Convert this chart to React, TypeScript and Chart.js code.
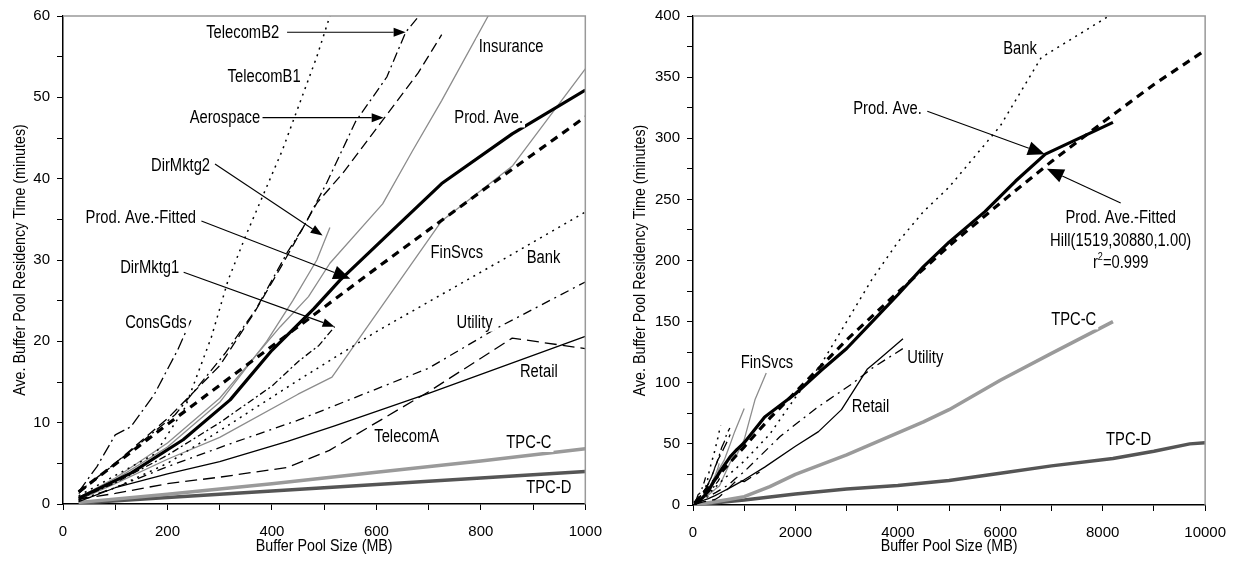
import React, { useEffect, useRef } from 'react';
import { Chart, registerables } from 'chart.js';

Chart.register(...registerables);

const FONT = "'Liberation Sans', Arial, sans-serif";
const NARROW = 0.82; // Arial Narrow is roughly Arial condensed horizontally

type Pt = [number, number];

// ---- series data: [buffer pool size MB, residency time minutes] ----
const prodAve: Pt[] = [[30, 0.7], [130, 3.8], [230, 7.9], [320, 12.8], [400, 18.9], [480, 24.0], [530, 27.5], [620, 33], [725, 39.4], [860, 45.5], [1000, 50.9], [1400, 72], [2000, 91], [2500, 110], [3000, 128], [3500, 150], [4000, 172], [4500, 195], [5000, 215], [5700, 240], [6300, 265], [6880, 287], [8200, 313]];
const prodAveFitted: Pt[] = [[30, 1.5], [100, 4.9], [200, 9.8], [300, 14.6], [400, 19.4], [500, 24.2], [600, 29], [700, 33.7], [800, 38.4], [900, 43], [1000, 47.6], [1500, 71], [2000, 92.4], [3000, 135], [4000, 174], [5000, 212], [6000, 247], [7000, 281], [8000, 313], [9000, 344], [10000, 372]];
const telecomB2: Pt[] = [[30, 1.5], [110, 5.5], [215, 11], [310, 18.5], [370, 24], [430, 31], [460, 34], [505, 39.5], [560, 47], [620, 52.5], [656, 58], [720, 63]];
const telecomB1: Pt[] = [[30, 1], [100, 3.5], [177, 6.2], [234, 11.9], [284, 20.5], [316, 27.5], [350, 33], [420, 43.5], [486, 55], [511, 60], [540, 65]];
const aerospace: Pt[] = [[30, 1.3], [100, 5], [200, 10.5], [300, 17], [366, 23.5], [416, 29], [486, 37], [536, 40.7], [610, 47], [680, 53], [725, 57.7]];
const dirMktg2: Pt[] = [[30, 0.8], [100, 3], [200, 7], [300, 12.5], [390, 20], [440, 25], [486, 30], [511, 34]];
const dirMktg1: Pt[] = [[30, 0.6], [100, 2.6], [200, 6], [300, 10], [400, 14.5], [450, 17.5], [490, 19.5], [520, 21.8]];
const consGds: Pt[] = [[30, 1.5], [65, 4.6], [100, 8.5], [130, 9.5], [175, 13.5], [220, 19], [245, 22.6]];
const insurance: Pt[] = [[30, 0.8], [100, 3.2], [200, 7.5], [300, 13], [416, 21.8], [470, 25.5], [511, 29.6], [612, 36.9], [669, 43.4], [725, 49.6], [814, 60], [1000, 79]];
const finSvcs: Pt[] = [[30, 0.5], [100, 2.5], [200, 5.5], [300, 8.2], [450, 13.5], [515, 15.6], [725, 34.8], [861, 41.6], [1000, 53.5], [1210, 86], [1430, 108]];
const bank: Pt[] = [[30, 0.4], [100, 2], [200, 5], [300, 9], [450, 15.2], [600, 21.2], [800, 28.5], [1000, 35.9], [1500, 58], [2000, 88], [2500, 115], [3000, 150], [3500, 185], [4000, 215], [4500, 240], [5000, 260], [6000, 310], [6800, 366], [8200, 402]];
const utility: Pt[] = [[30, 0.5], [100, 2], [200, 4.6], [320, 7.4], [450, 10.3], [700, 16.7], [830, 21.6], [1000, 27.3], [1700, 56], [2400, 79], [3100, 99], [3500, 112], [4100, 128]];
const retail: Pt[] = [[30, 0.3], [100, 2], [200, 3.7], [300, 5.2], [430, 7.7], [520, 9.6], [700, 13.6], [1000, 20.6], [1400, 31], [2000, 48], [2450, 60], [2900, 78], [3400, 111], [3600, 118], [4100, 136]];
const telecomA: Pt[] = [[30, 0.6], [100, 1.3], [200, 2.5], [300, 3.3], [430, 4.5], [510, 6.6], [700, 13.8], [860, 20.4], [1000, 19.1], [1300, 27]];
const tpcC: Pt[] = [[30, 0.2], [200, 1.2], [400, 2.5], [600, 3.9], [800, 5.3], [1000, 6.8], [1500, 15], [2000, 25], [2500, 33], [3000, 41], [3500, 50], [4000, 59], [4500, 68], [5000, 78], [6000, 102], [7000, 124], [8200, 150]];
const tpcD: Pt[] = [[30, 0.1], [200, 0.8], [400, 1.6], [600, 2.4], [800, 3.2], [1000, 4.0], [2000, 9], [3000, 13], [4000, 16], [5000, 20], [6000, 26], [7000, 32], [8200, 38], [9000, 44], [9700, 50], [10000, 51]];

// ---- axis settings ----
const leftXMax = 1000;
const leftYMax = 60;
const rightXMax = 10000;
const rightYMax = 400;
const xTitle = 'Buffer Pool Size (MB)';
const yTitle = 'Ave. Buffer Pool Residency Time (minutes)';

type Style = { data: Pt[]; color: string; width: number; dash: number[] };
const series: Style[] = [
  { data: prodAve, color: '#000', width: 3.2, dash: [] },
  { data: prodAveFitted, color: '#000', width: 3.2, dash: [8, 6] },
  { data: retail, color: '#000', width: 1.3, dash: [] },
  { data: telecomA, color: '#000', width: 1.3, dash: [12, 6] },
  { data: utility, color: '#000', width: 1.3, dash: [9, 5, 2, 5] },
  { data: bank, color: '#000', width: 1.5, dash: [2, 5] },
  { data: telecomB1, color: '#000', width: 1.5, dash: [2, 5] },
  { data: telecomB2, color: '#000', width: 1.3, dash: [10, 4, 2, 4] },
  { data: aerospace, color: '#000', width: 1.3, dash: [10, 5] },
  { data: dirMktg1, color: '#000', width: 1.3, dash: [7, 3, 2, 3] },
  { data: consGds, color: '#000', width: 1.3, dash: [12, 4, 2, 4] },
  { data: dirMktg2, color: '#8c8c8c', width: 1.3, dash: [] },
  { data: insurance, color: '#8c8c8c', width: 1.3, dash: [] },
  { data: finSvcs, color: '#8c8c8c', width: 1.3, dash: [] },
  { data: tpcC, color: '#9a9a9a', width: 3.5, dash: [] },
  { data: tpcD, color: '#555', width: 3.5, dash: [] },
];

type Label = { t: string; x: number; y: number; sup?: boolean };
type Arrow = { x1: number; y1: number; x2: number; y2: number; big?: boolean };

const leftLabels: Label[] = [
  { t: 'TelecomB2', x: 344, y: 57.9 },
  { t: 'TelecomB1', x: 385, y: 52.5 },
  { t: 'Aerospace', x: 310, y: 47.4 },
  { t: 'DirMktg2', x: 225, y: 41.5 },
  { t: 'Prod. Ave.-Fitted', x: 149, y: 35.2 },
  { t: 'DirMktg1', x: 166, y: 29 },
  { t: 'ConsGds', x: 178, y: 22.3 },
  { t: 'Insurance', x: 858, y: 56.2 },
  { t: 'Prod. Ave.', x: 815, y: 47.4 },
  { t: 'FinSvcs', x: 754, y: 30.9 },
  { t: 'Bank', x: 920, y: 30.3 },
  { t: 'Utility', x: 788, y: 22.3 },
  { t: 'Retail', x: 911, y: 16.2 },
  { t: 'TelecomA', x: 658, y: 8.2 },
  { t: 'TPC-C', x: 892, y: 7.5 },
  { t: 'TPC-D', x: 930, y: 2.0 },
];
const leftArrows: Arrow[] = [
  { x1: 429, y1: 58.0, x2: 656, y2: 58.0 },
  { x1: 382, y1: 47.5, x2: 614, y2: 47.5 },
  { x1: 291, y1: 41.8, x2: 497, y2: 33 },
  { x1: 265, y1: 34.8, x2: 550, y2: 27.7, big: true },
  { x1: 231, y1: 28.5, x2: 520, y2: 21.8 },
];
const rightLabels: Label[] = [
  { t: 'Bank', x: 6384, y: 373 },
  { t: 'Prod. Ave.', x: 3798, y: 324 },
  { t: 'Prod. Ave.-Fitted', x: 8351, y: 235 },
  { t: 'Hill(1519,30880,1.00)', x: 8351, y: 216 },
  { t: 'r2=0.999', x: 8351, y: 198, sup: true },
  { t: 'FinSvcs', x: 1445, y: 116 },
  { t: 'Utility', x: 4535, y: 120 },
  { t: 'Retail', x: 3466, y: 80 },
  { t: 'TPC-C', x: 7433, y: 151 },
  { t: 'TPC-D', x: 8505, y: 53 },
];
const rightArrows: Arrow[] = [
  { x1: 4575, y1: 322, x2: 6870, y2: 287, big: true },
  { x1: 8351, y1: 247, x2: 6909, y2: 275, big: true },
];

function narrowText(ctx: CanvasRenderingContext2D, text: string, x: number, y: number, size: number, align: CanvasTextAlign, rot = 0) {
  ctx.save();
  ctx.translate(x, y);
  if (rot) ctx.rotate(rot);
  ctx.scale(NARROW, 1);
  ctx.font = `${size}px ${FONT}`;
  ctx.textAlign = align;
  ctx.textBaseline = 'middle';
  ctx.fillText(text, 0, 0);
  ctx.restore();
}
function narrowWidth(ctx: CanvasRenderingContext2D, text: string, size: number) {
  ctx.font = `${size}px ${FONT}`;
  return ctx.measureText(text).width * NARROW;
}

function annotatePlugin(labels: Label[], arrows: Arrow[], yTitleX: number) {
  return {
    id: 'annot',
    afterDatasetsDraw(chart: any) {
      const { ctx, chartArea: a, scales } = chart;
      const sx = scales.x, sy = scales.y;
      ctx.save();
      // plot frame (top/right)
      ctx.strokeStyle = '#999';
      ctx.lineWidth = 1.5;
      ctx.setLineDash([]);
      ctx.beginPath();
      ctx.moveTo(a.left, a.top);
      ctx.lineTo(a.right, a.top);
      ctx.lineTo(a.right, a.bottom);
      ctx.stroke();
      // labels
      const LS = 18;
      for (const l of labels) {
        const px = sx.getPixelForValue(l.x);
        const py = sy.getPixelForValue(l.y);
        if (l.sup) {
          const a1 = 'r', a2 = '2', a3 = l.t.slice(2);
          const w1 = narrowWidth(ctx, a1, LS);
          const w2 = narrowWidth(ctx, a2, 11);
          const w3 = narrowWidth(ctx, a3, LS);
          const w = w1 + w2 + w3;
          let cx = px - w / 2;
          ctx.fillStyle = '#fff';
          ctx.fillRect(cx - 2, py - 9, w + 4, 18);
          ctx.fillStyle = '#000';
          narrowText(ctx, a1, cx, py, LS, 'left');
          cx += w1;
          narrowText(ctx, a2, cx, py - 6, 11, 'left');
          cx += w2;
          narrowText(ctx, a3, cx, py, LS, 'left');
          continue;
        }
        const w = narrowWidth(ctx, l.t, LS);
        ctx.fillStyle = '#fff';
        ctx.fillRect(px - w / 2 - 2, py - 9, w + 4, 18);
        ctx.fillStyle = '#000';
        narrowText(ctx, l.t, px, py, LS, 'center');
      }
      // arrows
      ctx.strokeStyle = '#000';
      ctx.fillStyle = '#000';
      ctx.lineWidth = 1.1;
      for (const r of arrows) {
        const x1 = sx.getPixelForValue(r.x1), y1 = sy.getPixelForValue(r.y1);
        const x2 = sx.getPixelForValue(r.x2), y2 = sy.getPixelForValue(r.y2);
        const len = r.big ? 17 : 12;
        const hw = r.big ? 7 : 4.5;
        const ang = Math.atan2(y2 - y1, x2 - x1);
        const bx = x2 - Math.cos(ang) * len, by = y2 - Math.sin(ang) * len;
        ctx.beginPath();
        ctx.moveTo(x1, y1);
        ctx.lineTo(bx, by);
        ctx.stroke();
        ctx.beginPath();
        ctx.moveTo(x2, y2);
        ctx.lineTo(bx - Math.sin(ang) * hw, by + Math.cos(ang) * hw);
        ctx.lineTo(bx + Math.sin(ang) * hw, by - Math.cos(ang) * hw);
        ctx.closePath();
        ctx.fill();
      }
      // axis titles
      ctx.fillStyle = '#000';
      narrowText(ctx, xTitle, (a.left + a.right) / 2, 546, 17.4, 'center');
      narrowText(ctx, yTitle, yTitleX, (a.top + a.bottom) / 2, 17.4, 'center', -Math.PI / 2);
      ctx.restore();
    },
  };
}

function makeConfig(opts: {
  xMax: number; xStep: number; xLabelEvery: number;
  yMax: number; yStep: number; yLabelEvery: number;
  yAxisWidth: number; xAxisHeight: number; padRight: number; yTitleX: number;
  labels: Label[]; arrows: Arrow[];
}): any {
  const tickFont = { family: FONT, size: 15 };
  return {
    type: 'line',
    data: {
      datasets: series.map((s) => ({
        data: s.data.map(([x, y]) => ({ x, y })),
        borderColor: s.color,
        borderWidth: s.width,
        borderDash: s.dash,
        borderCapStyle: 'butt',
        borderJoinStyle: 'round',
        pointRadius: 0,
        pointHoverRadius: 0,
        fill: false,
        tension: 0,
      })),
    },
    options: {
      responsive: false,
      animation: false,
      events: [],
      layout: { padding: { top: 15, right: opts.padRight, bottom: 0, left: 0 } },
      plugins: { legend: { display: false }, tooltip: { enabled: false } },
      scales: {
        x: {
          type: 'linear',
          min: 0,
          max: opts.xMax,
          ticks: {
            stepSize: opts.xStep,
            autoSkip: false,
            maxRotation: 0,
            color: '#000',
            font: tickFont,
            padding: 13,
            callback: (v: number) => (v % opts.xLabelEvery === 0 ? String(v) : ''),
          },
          grid: { display: true, drawOnChartArea: false, drawTicks: true, tickLength: 6, color: '#000', lineWidth: 1 },
          border: { display: true, color: '#000', width: 1.5 },
          title: { display: false },
          afterFit: (s: any) => { s.height = opts.xAxisHeight; },
        },
        y: {
          type: 'linear',
          min: 0,
          max: opts.yMax,
          ticks: {
            stepSize: opts.yStep,
            autoSkip: false,
            color: '#000',
            font: tickFont,
            padding: 7,
            callback: (v: number) => (v % opts.yLabelEvery === 0 ? String(v) : ''),
          },
          grid: { display: true, drawOnChartArea: false, drawTicks: true, tickLength: 6, color: '#000', lineWidth: 1 },
          border: { display: true, color: '#000', width: 1.5 },
          title: { display: false },
          afterFit: (s: any) => { s.width = opts.yAxisWidth; },
        },
      },
    },
    plugins: [annotatePlugin(opts.labels, opts.arrows, opts.yTitleX)],
  };
}

function ChartCanvas({ config, width, height, left }: { config: any; width: number; height: number; left: number }) {
  const ref = useRef<HTMLCanvasElement | null>(null);
  useEffect(() => {
    if (!ref.current) return;
    const chart = new Chart(ref.current, config);
    return () => chart.destroy();
  }, [config]);
  return (
    <canvas
      ref={ref}
      width={width}
      height={height}
      style={{ position: 'absolute', left, top: 0, width, height, display: 'block' }}
    />
  );
}

const leftConfig = makeConfig({
  xMax: leftXMax, xStep: 100, xLabelEvery: 200,
  yMax: leftYMax, yStep: 5, yLabelEvery: 10,
  yAxisWidth: 63, xAxisHeight: 62, padRight: 23, yTitleX: 20,
  labels: leftLabels, arrows: leftArrows,
});
const rightConfig = makeConfig({
  xMax: rightXMax, xStep: 1000, xLabelEvery: 2000,
  yMax: rightYMax, yStep: 25, yLabelEvery: 50,
  yAxisWidth: 78, xAxisHeight: 61, padRight: 32, yTitleX: 25,
  labels: rightLabels, arrows: rightArrows,
});

export default function App() {
  return (
    <div style={{ position: 'absolute', left: 0, top: 0, width: 1239, height: 566, background: '#fff' }}>
      <ChartCanvas config={leftConfig} width={615} height={566} left={0} />
      <ChartCanvas config={rightConfig} width={624} height={566} left={615} />
    </div>
  );
}
